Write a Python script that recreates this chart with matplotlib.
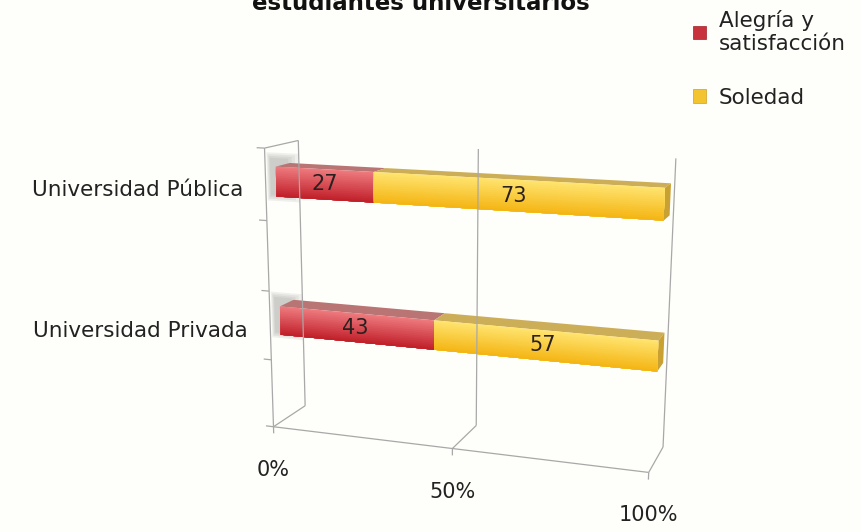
import numpy as np
import matplotlib
matplotlib.use('Agg')
import matplotlib.pyplot as plt
from matplotlib.transforms import Transform, ScaledTranslation
from matplotlib.patches import Patch

# ---------------- data ----------------
categories = ['Universidad Privada', 'Universidad Pública']
series_names = ['Alegría y\nsatisfacción', 'Soledad']
alegria = [43, 27]
soledad = [57, 73]
x_ticks = [0, 50, 100]
x_tick_labels = ['0%', '50%', '100%']
title = 'estudiantes universitarios'

# ---------------- layout / view ----------------
W, H = 861, 532
Y_MAX = 4.0                       # category axis runs 0..4, two slots per category
cat_pos = np.array([2 * i + 1.5 for i in range(len(categories))])
BAR_H = 0.42
ZF, ZB = 0.30, 0.72               # bar front / back depth (0 = front, 1 = back wall)

# frame (plot "room") anchor points: world (X%, Y, Z) -> pixel (u, v from top)
frame_world = [(0, 0, 0), (0, 4, 0), (0, 0, 1), (0, 4, 1), (100, 0, 0),
               (100, 0, 1), (100, 4, 1), (50, 0, 0), (50, 0, 1), (50, 4, 1)]
frame_pix = [(275, 425), (264, 148), (303, 408), (299, 140), (648, 475),
             (663, 445), (676, 158), (452, 448), (478, 425), (478, 150)]


def fit_camera(world, pix):
    A = []
    for (X, Y, Z), (u, v) in zip(world, pix):
        X, Y, Z = X / 100.0, Y / Y_MAX, Z
        u, v = u / W, 1 - v / H
        A.append([X, Y, Z, 1, 0, 0, 0, 0, -u * X, -u * Y, -u * Z, -u])
        A.append([0, 0, 0, 0, X, Y, Z, 1, -v * X, -v * Y, -v * Z, -v])
    _, _, Vt = np.linalg.svd(np.array(A))
    return Vt[-1].reshape(3, 4)


P = fit_camera(frame_world, frame_pix)


class PlaneProjection(Transform):
    """Projects 2-D coordinates lying on a plane of the 3-D scene to figure fraction."""
    input_dims = 2
    output_dims = 2
    is_separable = False
    has_inverse = False

    def __init__(self, plane, const):
        super().__init__()
        self.plane = plane
        self.const = const

    def transform_non_affine(self, values):
        vals = np.asarray(values, float)
        one_d = vals.ndim == 1
        vals = vals.reshape(-1, 2)
        a, b = vals[:, 0], vals[:, 1]
        c = np.full_like(a, self.const)
        if self.plane == 'z':      # (X, Y) at depth Z
            X, Y, Z = a, b, c
        elif self.plane == 'y':    # (X, Z) at height Y
            X, Y, Z = a, c, b
        else:                      # 'x': (Z, Y) at X
            X, Y, Z = c, b, a
        Wm = np.stack([X / 100.0, Y / Y_MAX, Z, np.ones_like(a)])
        h = P @ Wm
        out = np.column_stack([h[0] / h[2], h[1] / h[2]])
        return out.reshape(-1) if one_d else out


fig = plt.figure(figsize=(W / 100, H / 100), dpi=100)
fig.patch.set_facecolor('#FEFEFA')
ax = fig.add_axes([0, 0, 1, 1])
ax.set_axis_off()
plt.rcParams['font.family'] = ['DejaVu Sans']


def proj(plane, const, dx=0, dy=0):
    t = PlaneProjection(plane, const) + fig.transFigure
    if dx or dy:
        t = t + ScaledTranslation(dx / 100, dy / 100, fig.dpi_scale_trans)
    return t


grid_kw = dict(color='#A8A8A8', lw=0.9, solid_capstyle='butt')

# back wall verticals, floor depth lines, bottom ticks
for x in x_ticks:
    ax.plot([x, x], [0, Y_MAX], transform=proj('z', 1), **grid_kw)
    ax.plot([x, x], [0, 1], transform=proj('y', 0), **grid_kw)
    ax.plot([x, x], [0, -0.1], transform=proj('z', 0), **grid_kw)
# front floor edge
ax.plot([0, 100], [0, 0], transform=proj('z', 0), **grid_kw)
# left wall
ax.plot([0, 0], [0, Y_MAX], transform=proj('z', 0), **grid_kw)
ax.plot([0, 1], [Y_MAX, Y_MAX], transform=proj('x', 0), **grid_kw)
for k in range(int(Y_MAX) + 1):
    ax.plot([-2.2, 0], [k, k], transform=proj('z', 0), **grid_kw)

# ---------------- bars ----------------
def grad(top, bottom, n):
    top, bottom = np.array(top) / 255, np.array(bottom) / 255
    return [tuple(bottom + (top - bottom) * (k + 0.5) / n) for k in range(n)]

N = 16
red_grad = grad((238, 124, 128), (192, 30, 40), N)
yel_grad = grad((255, 228, 112), (244, 180, 18), N)
red_top, yel_top, yel_side = '#B97474', '#CDAE58', '#C9A032'

al = np.array(alegria)
so = np.array(soledad)
series = [(al, np.zeros_like(al), red_grad, red_top),
          (so, al, yel_grad, yel_top)]

for i in range(len(categories)):
    yc = cat_pos[i]
    # soft shadow at the left end
    for s, a in [(0.0, 0.13), (0.05, 0.13), (0.1, 0.13), (0.15, 0.13)]:
        ax.barh([yc + 0.05], [9 - 25 * s], left=[-3.5 + 6 * s],
                height=BAR_H + 0.26 - s, color='#8E8E8E', alpha=a, lw=0,
                transform=proj('z', ZF + 0.1))
    # top faces
    for vals, lefts, g, topc in series:
        ax.barh([(ZF + ZB) / 2], [vals[i]], left=[lefts[i]], height=ZB - ZF,
                color=topc, lw=0, transform=proj('y', yc + BAR_H / 2))
    # right end face
    ax.bar([(ZF + ZB) / 2], [BAR_H], bottom=[yc - BAR_H / 2], width=ZB - ZF,
           color=yel_side, lw=0, transform=proj('x', al[i] + so[i]))

# front faces with vertical gradient (upper layers drawn first, lower ones on top)
for vals, lefts, g, topc in series:
    for k in range(N - 1, -1, -1):
        ax.barh(cat_pos - BAR_H / 2 + (k + 1) * BAR_H / N / 2, vals, left=lefts,
                height=(k + 1) * BAR_H / N, color=g[k], lw=0,
                transform=proj('z', ZF))

# value labels
for vals, lefts, g, topc in series:
    for i in range(len(categories)):
        ax.text(lefts[i] + vals[i] / 2, cat_pos[i], f'{vals[i]}',
                transform=proj('z', ZF), ha='center', va='center',
                fontsize=15, color='#2A2020')

# category labels
for i, c in enumerate(categories):
    ax.text(0, cat_pos[i], c, transform=proj('z', 0, dx=-22, dy=-5),
            ha='right', va='center', fontsize=15.5, color='#222222')

# x tick labels
for x, lab in zip(x_ticks, x_tick_labels):
    ax.text(x, 0, lab, transform=proj('z', 0, dy=-43), ha='center',
            va='center', fontsize=15, color='#222222')

# title (upper line lies outside the picture, as in the original)
fig.text(421 / W, 1 - 10 / H, title, ha='center', va='baseline',
         fontsize=16.5, fontweight='bold', color='#111111')

# legend
handles = [Patch(facecolor='#C8323C', edgecolor='#A02028', lw=0.5),
           Patch(facecolor='#F4C430', edgecolor='#D0A020', lw=0.5)]
fig.legend(handles, series_names, loc='upper left',
           bbox_to_anchor=(693 / W, 1 - 10 / H), frameon=False, fontsize=15.5,
           handlelength=0.6, handleheight=0.6, handletextpad=0.6,
           labelspacing=1.55, borderpad=0, borderaxespad=0,
           labelcolor='#222222')

fig.savefig('out.png', dpi=100, facecolor=fig.get_facecolor())
